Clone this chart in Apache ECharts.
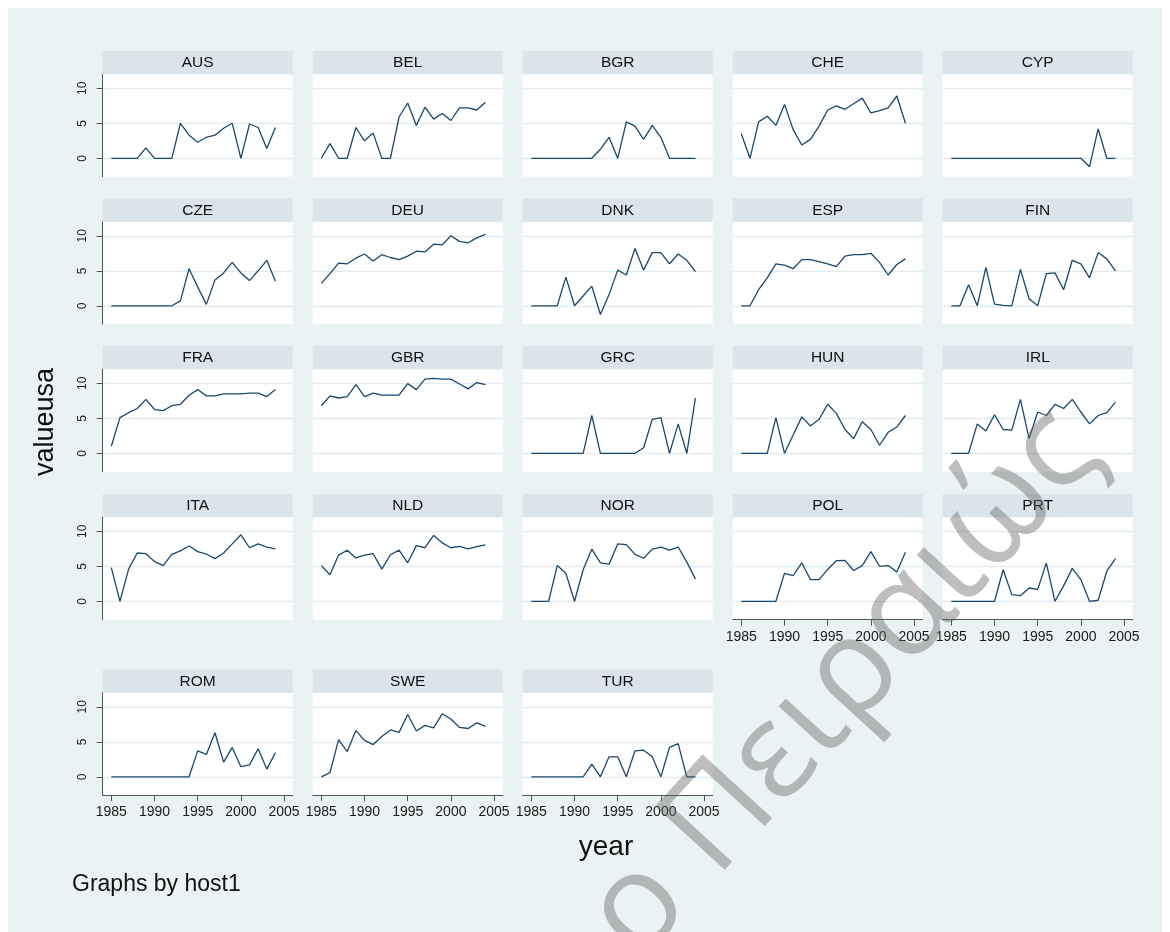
<!DOCTYPE html>
<html>
<head>
<meta charset="utf-8">
<script src="https://cdn.jsdelivr.net/npm/echarts@6/dist/echarts.min.js"></script>
<style>
html,body{margin:0;padding:0;background:#ffffff;}
#c{width:1170px;height:932px;}
</style>
</head>
<body>
<div id="c"></div>
<script>
// ---------------- data ----------------
const years = [1985,1986,1987,1988,1989,1990,1991,1992,1993,1994,1995,1996,1997,1998,1999,2000,2001,2002,2003,2004];
const countries = ['AUS','BEL','BGR','CHE','CYP','CZE','DEU','DNK','ESP','FIN','FRA','GBR','GRC','HUN','IRL','ITA','NLD','NOR','POL','PRT','ROM','SWE','TUR'];

const AUS = [0,0,0,0,1.5,0,0,0,5.0,3.3,2.3,3.0,3.3,4.3,5.0,0,4.9,4.4,1.4,4.4];
const BEL = [0,2.1,0,0,4.4,2.5,3.6,0,0,5.9,7.9,4.7,7.3,5.6,6.4,5.4,7.2,7.2,6.9,8.0];
const BGR = [0,0,0,0,0,0,0,0,1.3,3.0,0,5.2,4.6,2.7,4.7,3.0,0,0,0,0];
const CHE = [3.5,0,5.2,6.0,4.7,7.7,4.1,1.9,2.7,4.6,6.9,7.5,7.0,7.8,8.6,6.5,6.8,7.2,8.9,5.0];
const CYP = [0,0,0,0,0,0,0,0,0,0,0,0,0,0,0,0,-1.2,4.2,0,0];
const CZE = [0,0,0,0,0,0,0,0,0.7,5.3,2.7,0.2,3.7,4.7,6.2,4.7,3.6,5.0,6.5,3.5];
const DEU = [3.2,4.6,6.1,6.0,6.8,7.4,6.4,7.3,6.9,6.6,7.1,7.8,7.7,8.8,8.7,10.0,9.2,9.0,9.7,10.2];
const DNK = [0,0,0,0,4.1,0,1.4,2.8,-1.25,1.6,5.1,4.4,8.2,5.1,7.6,7.6,6.0,7.4,6.5,4.9];
const ESP = [0,0,2.3,4.0,6.0,5.8,5.3,6.6,6.6,6.3,6.0,5.6,7.1,7.3,7.3,7.5,6.2,4.4,5.9,6.7];
const FIN = [0,0,3.0,0,5.5,0.25,0.05,0,5.2,1.0,0,4.6,4.7,2.3,6.5,6.0,4.0,7.6,6.7,5.0];
const FRA = [1.0,5.1,5.8,6.4,7.7,6.25,6.1,6.8,7.0,8.3,9.1,8.2,8.2,8.5,8.5,8.5,8.6,8.6,8.1,9.1];
const GBR = [6.8,8.2,7.9,8.1,9.8,8.1,8.6,8.3,8.3,8.3,9.95,9.1,10.6,10.7,10.6,10.6,9.9,9.2,10.1,9.8];
const GRC = [0,0,0,0,0,0,0,5.4,0,0,0,0,0,0.8,4.85,5.1,0,4.2,0,7.9];
const HUN = [0,0,0,0,5.1,0,2.6,5.2,3.9,4.85,7.0,5.7,3.4,2.1,4.5,3.4,1.15,3.0,3.75,5.4];
const IRL = [0,0,0,4.2,3.2,5.5,3.4,3.3,7.7,2.1,5.9,5.4,7.0,6.4,7.7,5.9,4.2,5.4,5.8,7.3];
const ITA = [4.8,0,4.6,6.9,6.8,5.7,5.1,6.7,7.2,7.9,7.1,6.75,6.1,6.9,8.2,9.5,7.65,8.2,7.75,7.5];
const NLD = [5.1,3.8,6.6,7.3,6.2,6.6,6.8,4.6,6.65,7.3,5.5,7.95,7.65,9.4,8.35,7.65,7.85,7.5,7.8,8.05];
const NOR = [0,0,0,5.1,4.0,0,4.5,7.45,5.5,5.3,8.2,8.1,6.7,6.15,7.45,7.75,7.3,7.75,5.6,3.2];
const POL = [0,0,0,0,0,4.0,3.65,5.5,3.1,3.1,4.55,5.8,5.85,4.4,5.1,7.1,5.0,5.1,4.2,7.0];
const PRT = [0,0,0,0,0,0,4.5,0.95,0.8,1.9,1.7,5.45,0,2.2,4.7,3.1,0,0.15,4.3,6.1];
const ROM = [0,0,0,0,0,0,0,0,0,0,3.7,3.2,6.3,2.1,4.2,1.45,1.7,4.0,1.1,3.45];
const SWE = [0,0.6,5.3,3.6,6.6,5.2,4.6,5.75,6.7,6.35,8.9,6.55,7.35,7.0,9.0,8.25,7.05,6.9,7.7,7.2];
const TUR = [0,0,0,0,0,0,0,1.8,0,2.85,2.85,0,3.7,3.8,2.85,0,4.2,4.75,0,0];

const seriesValues = [AUS,BEL,BGR,CHE,CYP,CZE,DEU,DNK,ESP,FIN,FRA,GBR,GRC,HUN,IRL,ITA,NLD,NOR,POL,PRT,ROM,SWE,TUR];

const xTicks = [1985,1990,1995,2000,2005];
const yTicks = [0,5,10];

const yTitle = 'valueusa';
const xTitle = 'year';
const noteText = 'Graphs by host1';
const watermarkText = 'Πανεπιστήμιο Πειραιώς';

// ---------------- layout ----------------
const COL_LEFT = 102.7, COL_PITCH = 210, PANEL_W = 190;
const HEADER_TOPS = [51, 198.5, 346, 494, 669.5];
const HEADER_H = 23.3, PLOT_H = 102.4;
const NAVY = '#1a476f';
const AXIS_C = '#555555';
const GRID_C = '#e3ebee';
const FONT = '"Liberation Sans", Arial, sans-serif';

const grids = [], xAxes = [], yAxes = [], series = [];
const graphics = [];

graphics.push({type:'rect', z:-100, shape:{x:8, y:8, width:1154, height:930}, style:{fill:'#eaf2f3'}});

countries.forEach((name, i) => {
  const row = Math.floor(i / 5), col = i % 5;
  const left = COL_LEFT + COL_PITCH * col;
  const hTop = HEADER_TOPS[row];
  const top = hTop + HEADER_H;
  const showX = (row === 4) || (row === 3 && col >= 3);
  const showY = col === 0;

  grids.push({left:left, top:top, width:PANEL_W, height:PLOT_H, show:true, backgroundColor:'#ffffff', borderWidth:0, containLabel:false, outerBoundsMode:'none'});

  xAxes.push({
    type:'value', gridIndex:i, min:1984, max:2006,
    axisLine:{show:showX, onZero:false, lineStyle:{color:AXIS_C, width:1}},
    axisTick:{show:showX, customValues:xTicks, length:6, lineStyle:{color:AXIS_C, width:1}},
    axisLabel:{show:showX, customValues:xTicks, margin:10, fontFamily:FONT, fontSize:14, color:'#1a1a1a',
               formatter:(v) => String(v)},
    splitLine:{show:false}
  });
  yAxes.push({
    type:'value', gridIndex:i, min:-2.63, max:12,
    axisLine:{show:showY, lineStyle:{color:AXIS_C, width:1}},
    axisTick:{show:showY, customValues:yTicks, length:6, lineStyle:{color:AXIS_C, width:1}},
    axisLabel:{show:showY, customValues:yTicks, rotate:90, margin:14, fontFamily:FONT, fontSize:12, color:'#1a1a1a',
               formatter:(v) => String(v)},
    splitLine:{show:true, lineStyle:{color:GRID_C, width:1.3}}
  });
  series.push({
    type:'line', xAxisIndex:i, yAxisIndex:i, name:name,
    data: years.map((y, k) => [y, seriesValues[i][k]]),
    showSymbol:false, symbol:'none', silent:true,
    lineStyle:{color:NAVY, width:1.3}, itemStyle:{color:NAVY}
  });

  graphics.push({type:'rect', shape:{x:left, y:hTop, width:PANEL_W, height:HEADER_H}, style:{fill:'#d9e5ea'}});
  graphics.push({type:'text', x:left + PANEL_W/2, y:hTop + HEADER_H/2 + 0.5,
    style:{text:name, fontFamily:FONT, fontSize:15.5, fill:'#111111', align:'center', verticalAlign:'middle'}});
});

graphics.push({type:'text', x:46, y:422, rotation:Math.PI/2,
  style:{text:yTitle, fontFamily:FONT, fontSize:27, fill:'#111111', align:'center', verticalAlign:'middle'}});
graphics.push({type:'text', x:606, y:847,
  style:{text:xTitle, fontFamily:FONT, fontSize:28, fill:'#111111', align:'center', verticalAlign:'middle'}});
graphics.push({type:'text', x:72, y:885,
  style:{text:noteText, fontFamily:FONT, fontSize:23, fill:'#111111', align:'left', verticalAlign:'middle'}});

graphics.push({type:'text', x:1076, y:430, rotation:0.83, z:100,
  style:{text:watermarkText, fontFamily:'"Open Sans", "Noto Sans", "DejaVu Sans", sans-serif', fontWeight:400, fontSize:132,
         fill:'rgba(100,100,100,0.42)', align:'right', verticalAlign:'middle'}});

const chart = echarts.init(document.getElementById('c'), null, {renderer:'canvas'});
chart.setOption({
  animation:false,
  backgroundColor:'#ffffff',
  grid:grids, xAxis:xAxes, yAxis:yAxes, series:series,
  graphic:{elements:graphics}
});
</script>
</body>
</html>
